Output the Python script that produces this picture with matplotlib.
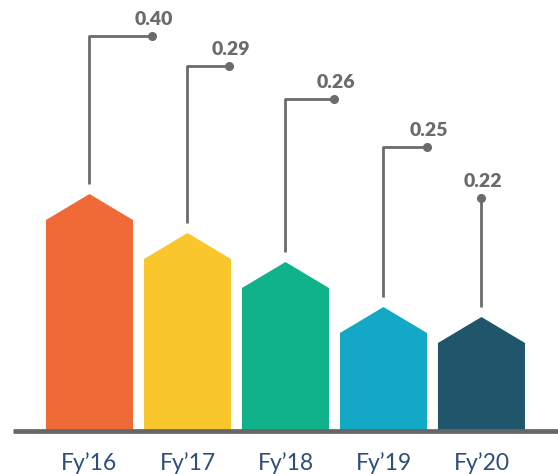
import matplotlib
matplotlib.use("Agg")
import matplotlib.pyplot as plt

# data
years = ["Fy\u201916", "Fy\u201917", "Fy\u201918", "Fy\u201919", "Fy\u201920"]
values = [0.40, 0.29, 0.26, 0.25, 0.22]
# drawn heights of the bar bodies (infographic scale, not proportional to values)
bar_heights = [211, 172, 143, 98, 88]
colors = ["#F06A37", "#F9C72C", "#10B28A", "#13A8C6", "#1F566B"]

# callout layout: elbow height and horizontal reach of each leader line
elbow_y = [395, 365, 332, 284, 233]
elbow_dx = [0.64, 0.42, 0.50, 0.44, 0.0]

roof = 26
width = 0.888
gap = 10
line_c = "#6B6B6B"

fig = plt.figure(figsize=(5.58, 4.74), dpi=100)
ax = fig.add_axes([0, 0, 1, 1])
ax.set_xlim(-0.913, 4.781)
ax.set_ylim(-43, 431)
ax.axis("off")

for i, (h, c) in enumerate(zip(bar_heights, colors)):
    l, r = i - width / 2, i + width / 2
    ax.fill([l, l, i, r, r], [0, h, h + roof, h, 0], color=c, lw=0, zorder=2)

    # leader line
    top = h + roof + gap
    ax.plot([i, i, i + elbow_dx[i]], [top, elbow_y[i], elbow_y[i]],
            color=line_c, lw=2.0, solid_capstyle="butt", zorder=3)
    ax.plot(i + elbow_dx[i], elbow_y[i], "o", color=line_c, ms=5.5, zorder=4)
    ax.text(i + elbow_dx[i] + 0.02, elbow_y[i] + 8, f"{values[i]:.2f}",
            ha="center", va="bottom", fontsize=14, fontweight="heavy",
            color=line_c, family="Lato")

    ax.text(i, -32, years[i], ha="center", va="center", fontsize=16.5,
            color="#2D4F78", family="Lato")

# baseline
ax.plot([-0.78, 4.781], [0, 0], color="#666666", lw=3.4, solid_capstyle="butt", zorder=5)

fig.savefig("out.png", dpi=100)
